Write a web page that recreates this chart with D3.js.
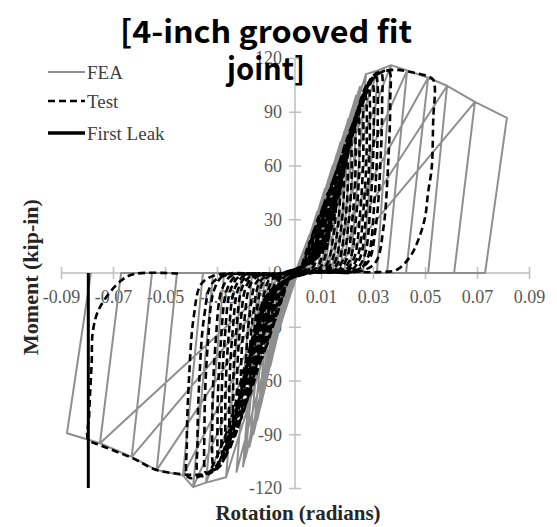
<!DOCTYPE html>
<html>
<head>
<meta charset="utf-8">
<script src="https://cdn.jsdelivr.net/npm/d3@7"></script>
<style>
  body { margin: 0; background: #fff; }
  svg { display: block; }
</style>
</head>
<body>
<svg id="chart" width="557" height="527"></svg>
<script>
// rotation ticks (radians) and moment ticks (kip-in)
var xTicks = [-0.09, -0.07, -0.05, -0.03, -0.01, 0.01, 0.03, 0.05, 0.07, 0.09];
var xTickLabels = ['-0.09', '-0.07', '-0.05', '-0.03', '-0.01', '0.01', '0.03', '0.05', '0.07', '0.09'];
var yTicks = [-120, -90, -60, -30, 0, 30, 60, 90, 120];

var legendNames = ['FEA', 'Test', 'First Leak'];
var titleLines = ['[4-inch grooved fit', 'joint]'];

// FEA hysteresis, [rotation, moment]
var feaPoints = [
  [0, 0],
  [0.0055, 21], [0.0005, 0], [-0.0005, 0], [-0.004, -22], [0.001, 0], [0.001, 0],
  [0.007, 27], [0.0015, 0], [-0.0005, 0], [-0.0055, -29], [0.0005, 0], [0.0012, 0],
  [0.0085, 34], [0.0025, 0], [-0.001, 0], [-0.007, -37], [-0.001, 0], [0.0015, 0],
  [0.010, 40], [0.004, 0], [-0.001, 0], [-0.0083, -44], [-0.0025, 0], [0.0015, 0],
  [0.0115, 47], [0.0055, 0], [-0.001, 0], [-0.0095, -52], [-0.0035, 0], [0.002, 0],
  [0.013, 53], [0.007, 0], [-0.001, 0], [-0.011, -60], [-0.005, 0], [0.002, 0],
  [0.0145, 60], [0.0085, 0], [-0.0015, 0], [-0.012, -67], [-0.006, 0], [0.0025, 0],
  [0.016, 66], [0.010, 0], [-0.0015, 0], [-0.0133, -75], [-0.0073, 0], [0.0025, 0],
  [0.0175, 73], [0.0115, 0], [-0.0015, 0], [-0.0145, -82], [-0.0085, 0], [0.003, 0],
  [0.019, 79], [0.013, 0], [-0.0015, 0], [-0.016, -90], [-0.010, 0], [0.003, 0],
  [0.0205, 86], [0.0145, 0], [-0.002, 0], [-0.0175, -97], [-0.0115, 0], [0.0035, 0],
  [0.022, 92], [0.016, 0], [-0.002, 0], [-0.019, -103], [-0.013, 0], [0.0035, 0],
  [0.0235, 99], [0.0175, 0], [-0.002, 0], [-0.020, -108], [-0.014, 0], [0.003, 0],
  [0.025, 104], [0.019, 0], [-0.002, 0], [-0.0225, -111], [-0.0165, 0], [0.003, 0],
  [0.0273, 111], [0.0212, 0], [-0.002, 0], [-0.0265, -114], [-0.0205, 0], [0.004, 0],
  [0.0273, 111], [0.0319, 113], [0.0262, 0], [-0.002, 0], [-0.0265, -114], [-0.0342, -117], [-0.0273, 0], [0.005, 0],
  [0.0319, 113], [0.0369, 116], [0.0315, 0], [-0.002, 0], [-0.0342, -117], [-0.0392, -119.5], [-0.0315, 0], [0.006, 0],
  [0.0369, 116], [0.0431, 113], [0.0354, 0], [-0.002, 0], [-0.0392, -119.5], [-0.0431, -113], [-0.0354, 0], [0.008, 0],
  [0.0431, 113], [0.0512, 109], [0.0427, 0], [-0.003, 0], [-0.0431, -113], [-0.0532, -110], [-0.0454, 0], [0.0096, 0],
  [0.0512, 109], [0.0585, 104.5], [0.0512, 0], [-0.003, 0], [-0.0532, -110], [-0.0628, -102.6], [-0.055, 0], [0.012, 0],
  [0.0585, 104.5], [0.0692, 95.5], [0.0612, 0], [-0.003, 0], [-0.0628, -102.6], [-0.075, -95], [-0.0669, 0], [0.0143, 0],
  [0.0692, 95.5], [0.0815, 86.6], [0.0731, 0], [-0.004, 0], [-0.075, -95], [-0.0877, -89.4], [-0.0785, 0]
];

// test hysteresis, [rotation, moment]
var testPoints = [
  [0, 0],
  [0.0018, 1.8], [0.0033, 7.2], [0.0048, 14], [0.006, 18], [0.0068, 13.5], [0.0058, 6.3], [0.0035, 1.5], [0.0005, 0.2],
  [-0.0018, -1.8], [-0.0033, -7.2], [-0.0048, -14], [-0.006, -18], [-0.0068, -13.5], [-0.0058, -6.3], [-0.0035, -1.5], [-0.0005, -0.2],
  [0.0024, 2.6], [0.0044, 10.4], [0.0064, 20], [0.008, 26], [0.0088, 19.5], [0.0076, 9], [0.0052, 2], [0.0015, 0.2],
  [-0.0024, -2.7], [-0.0044, -10.8], [-0.0064, -21], [-0.008, -27], [-0.0088, -20], [-0.0076, -9.5], [-0.0052, -2.2], [-0.0015, -0.2],
  [0.0029, 3.2], [0.0052, 12.8], [0.0076, 25], [0.0095, 32], [0.0103, 24], [0.009, 11], [0.0065, 2.6], [0.002, 0.3],
  [-0.0029, -3.3], [-0.0052, -13.2], [-0.0076, -25.7], [-0.0095, -33], [-0.0103, -24.8], [-0.009, -11.5], [-0.0065, -2.6], [-0.002, -0.3],
  [0.0035, 3.9], [0.0063, 15.6], [0.0092, 30], [0.0115, 39], [0.0123, 29], [0.011, 13.6], [0.0085, 3], [0.0045, 0.4], [0.001, 0.2],
  [-0.0035, -4.2], [-0.0063, -16.8], [-0.0092, -33], [-0.0115, -42], [-0.0123, -31.5], [-0.011, -14.7], [-0.0085, -3.4], [-0.0045, -0.4], [-0.001, -0.2],
  [0.0039, 4.5], [0.0072, 18], [0.0104, 35], [0.013, 45], [0.0138, 34], [0.0125, 16], [0.010, 3.6], [0.006, 0.5], [0.001, 0.2],
  [-0.0039, -4.8], [-0.0072, -19], [-0.0104, -37], [-0.013, -48], [-0.0138, -36], [-0.0125, -17], [-0.010, -3.8], [-0.006, -0.5], [-0.001, -0.2],
  [0.0045, 5.2], [0.0083, 21], [0.012, 40.5], [0.015, 52], [0.0158, 39], [0.0145, 18], [0.012, 4.2], [0.008, 0.5], [0.0015, 0.2],
  [-0.0045, -5.5], [-0.0083, -22], [-0.012, -43], [-0.015, -55], [-0.0158, -41], [-0.0145, -19], [-0.012, -4.4], [-0.008, -0.6], [-0.0015, -0.2],
  [0.005, 5.8], [0.0091, 23], [0.0132, 45], [0.0165, 58], [0.0173, 43], [0.016, 20], [0.0135, 4.6], [0.0095, 0.6], [0.0015, 0.2],
  [-0.005, -6.2], [-0.0091, -25], [-0.0132, -48], [-0.0165, -62], [-0.0173, -46], [-0.016, -22], [-0.0135, -5], [-0.0095, -0.6], [-0.0015, -0.2],
  [0.0054, 6.4], [0.0099, 25.6], [0.0144, 50], [0.018, 64], [0.0188, 48], [0.0175, 22], [0.015, 5], [0.011, 0.6], [0.002, 0.2],
  [-0.0054, -6.9], [-0.0099, -27.6], [-0.0144, -54], [-0.018, -69], [-0.0188, -52], [-0.0175, -24], [-0.015, -5.5], [-0.011, -0.7], [-0.002, -0.2],
  [0.0059, 7], [0.0107, 28], [0.0156, 55], [0.0195, 70], [0.0203, 52], [0.019, 24], [0.0165, 5.6], [0.0125, 0.7], [0.002, 0.2],
  [-0.006, -7.6], [-0.011, -30], [-0.016, -59], [-0.020, -76], [-0.0208, -57], [-0.0195, -27], [-0.017, -6], [-0.013, -0.8], [-0.002, -0.2],
  [0.0063, 7.7], [0.0116, 31], [0.0168, 60], [0.021, 77], [0.0218, 58], [0.0205, 27], [0.018, 6], [0.014, 0.8], [0.0025, 0.2],
  [-0.0065, -8.3], [-0.0118, -33], [-0.0172, -65], [-0.0215, -83], [-0.0223, -62], [-0.021, -29], [-0.0185, -6.6], [-0.0145, -0.8], [-0.0025, -0.2],
  [0.0068, 8.3], [0.0124, 33], [0.018, 65], [0.0225, 83], [0.0233, 62], [0.022, 29], [0.0195, 6.6], [0.0155, 0.8], [0.003, 0.2],
  [-0.0069, -8.9], [-0.0127, -36], [-0.0184, -69], [-0.023, -89], [-0.0238, -67], [-0.0225, -31], [-0.020, -7], [-0.016, -0.9], [-0.003, -0.2],
  [0.0072, 8.9], [0.0132, 36], [0.0192, 69], [0.024, 89], [0.0248, 67], [0.0235, 31], [0.021, 7], [0.017, 0.9], [0.0035, 0.2],
  [-0.0074, -9.5], [-0.0135, -38], [-0.0196, -74], [-0.0245, -95], [-0.0253, -71], [-0.024, -33], [-0.0215, -7.6], [-0.0175, -1], [-0.0035, -0.3],
  [0.0077, 9.5], [0.014, 38], [0.0204, 74], [0.0255, 95], [0.0263, 71], [0.025, 33], [0.0225, 7.6], [0.0185, 1], [0.004, 0.3],
  [-0.0078, -10], [-0.0143, -40], [-0.0208, -78], [-0.026, -100], [-0.0268, -75], [-0.0255, -35], [-0.023, -8], [-0.019, -1], [-0.004, -0.3],
  [0.008, 10], [0.0147, 40], [0.0214, 78], [0.0268, 100], [0.0276, 75], [0.0263, 35], [0.0238, 8], [0.0198, 1], [0.0045, 0.3],
  [-0.0083, -10.4], [-0.0151, -42], [-0.022, -81], [-0.0275, -104], [-0.0283, -78], [-0.027, -36], [-0.0245, -8.3], [-0.0205, -1], [-0.0045, -0.3],
  [0.0084, 10.5], [0.0154, 42], [0.0224, 82], [0.028, 105], [0.0288, 79], [0.0275, 37], [0.025, 8.4], [0.021, 1], [0.005, 0.3],
  [-0.0087, -10.8], [-0.016, -43], [-0.0232, -84], [-0.029, -108], [-0.0298, -81], [-0.0285, -38], [-0.026, -8.6], [-0.022, -1.1], [-0.005, -0.3],
  [0.0088, 10.8], [0.0162, 43], [0.0236, 84], [0.0295, 108], [0.0303, 81], [0.029, 38], [0.0265, 8.6], [0.0225, 1], [0.005, 0.3],
  [-0.0093, -11], [-0.017, -44], [-0.0245, -86], [-0.031, -110], [-0.0318, -82], [-0.0305, -38], [-0.028, -8.8], [-0.024, -1.1], [-0.005, -0.3],
  [0.009, 11], [0.0165, 44], [0.024, 86], [0.031, 110], [0.0318, 83], [0.0305, 39], [0.028, 8.8], [0.024, 1], [0.0055, 0.3],
  [-0.010, -11], [-0.018, -45], [-0.026, -88], [-0.034, -112], [-0.0348, -84], [-0.0335, -39], [-0.031, -9], [-0.027, -1.1], [-0.0055, -0.3],
  [0.009, 10], [0.016, 42], [0.022, 80], [0.027, 102], [0.030, 110], [0.033, 112], [0.0335, 95], [0.0328, 60], [0.031, 25], [0.028, 6], [0.022, 1], [0.006, 0.3],
  [-0.009, -10], [-0.016, -43], [-0.023, -84], [-0.029, -106], [-0.033, -112], [-0.037, -113], [-0.0375, -95], [-0.0368, -60], [-0.035, -25], [-0.032, -6], [-0.026, -1], [-0.006, -0.3],
  [0.0092, 10.5], [0.0165, 43], [0.023, 83], [0.028, 104], [0.032, 111], [0.036, 113], [0.0366, 95], [0.0358, 60], [0.034, 25], [0.031, 6], [0.025, 1], [0.006, 0.3],
  [-0.0095, -10.5], [-0.017, -44], [-0.024, -85], [-0.030, -107], [-0.035, -112.5], [-0.041, -114], [-0.0416, -96], [-0.0408, -60], [-0.039, -25], [-0.036, -6], [-0.030, -1], [-0.006, -0.3],
  [0.0095, 10], [0.017, 44], [0.023, 85], [0.028, 106], [0.033, 112], [0.039, 113.4], [0.045, 112], [0.0507, 110], [0.0531, 108], [0.0538, 103], [0.0532, 87], [0.0526, 59], [0.0512, 45], [0.050, 31], [0.0473, 18], [0.0442, 9], [0.039, 1.7], [0.032, 0.5], [0.007, 0.2],
  [-0.0095, -10], [-0.017, -44], [-0.0235, -86], [-0.029, -108], [-0.034, -112], [-0.0392, -112.7], [-0.045, -112], [-0.0532, -110], [-0.0623, -103.5], [-0.075, -96], [-0.0795, -93], [-0.0792, -80], [-0.0788, -67], [-0.0782, -50], [-0.0777, -32], [-0.075, -19], [-0.0667, -4], [-0.0615, -0.5], [-0.045, -0.3]
];

// first leak marker
var leakPoints = [[-0.0795, 0], [-0.0795, -120]];

var svg = d3.select('#chart');
var x = d3.scaleLinear().domain([-0.09, 0.09]).range([61, 529]);
var y = d3.scaleLinear().domain([-120, 120]).range([488, 58]);
var axisColor = '#bfbfbf';
var serif = '"Liberation Serif", "Times New Roman", serif';

// axes (ticks cross the line)
var xAxis = svg.append('g')
    .attr('transform', 'translate(0,' + (y(0) - 6) + ')')
    .call(d3.axisBottom(x).tickValues(xTicks).tickSize(12).tickPadding(11)
        .tickFormat(function (d, i) { return xTickLabels[i]; }));
xAxis.select('.domain').remove();

var yAxis = svg.append('g')
    .attr('transform', 'translate(' + (x(0) + 6) + ',0)')
    .call(d3.axisLeft(y).tickValues(yTicks).tickSize(12).tickPadding(7)
        .tickFormat(function (d) { return String(d); }));
yAxis.select('.domain').remove();

svg.selectAll('.tick line').attr('stroke', axisColor).attr('stroke-width', 1.5);
svg.selectAll('.tick text')
    .attr('fill', '#595959')
    .style('font-family', serif)
    .style('font-size', '18px');

svg.append('line')
    .attr('x1', x(-0.09)).attr('x2', x(0.09))
    .attr('y1', y(0)).attr('y2', y(0))
    .attr('stroke', axisColor).attr('stroke-width', 1.5);
svg.append('line')
    .attr('x1', x(0)).attr('x2', x(0))
    .attr('y1', y(120)).attr('y2', y(-120))
    .attr('stroke', axisColor).attr('stroke-width', 1.5);

var line = d3.line()
    .x(function (d) { return x(d[0]); })
    .y(function (d) { return y(d[1]); });

svg.append('path')
    .datum(feaPoints)
    .attr('d', line)
    .attr('fill', 'none')
    .attr('stroke', '#8f8f8f')
    .attr('stroke-width', 2)
    .attr('stroke-linejoin', 'round');

svg.append('path')
    .datum(testPoints)
    .attr('d', line.curve(d3.curveCatmullRom.alpha(0.5)))
    .attr('fill', 'none')
    .attr('stroke', '#000')
    .attr('stroke-width', 2.6)
    .attr('stroke-dasharray', '7,4');

svg.append('path')
    .datum(leakPoints)
    .attr('d', line.curve(d3.curveLinear))
    .attr('fill', 'none')
    .attr('stroke', '#000')
    .attr('stroke-width', 3);

// legend
var legendY = [72, 101, 133];
var legendStyle = [
    {stroke: '#8f8f8f', width: 2, dash: null},
    {stroke: '#000', width: 2.5, dash: '7,4'},
    {stroke: '#000', width: 3.5, dash: null}
];
var legend = svg.append('g').selectAll('g').data(legendNames).enter().append('g')
    .attr('transform', function (d, i) { return 'translate(48,' + legendY[i] + ')'; });
legend.append('line')
    .attr('x1', 0).attr('x2', 37)
    .attr('stroke', function (d, i) { return legendStyle[i].stroke; })
    .attr('stroke-width', function (d, i) { return legendStyle[i].width; })
    .attr('stroke-dasharray', function (d, i) { return legendStyle[i].dash; });
legend.append('text')
    .attr('x', 39).attr('dy', '0.35em')
    .attr('fill', '#404040')
    .style('font-family', serif)
    .style('font-size', '19px')
    .text(function (d) { return d; });

// axis titles
svg.append('text')
    .attr('x', 298).attr('y', 520)
    .attr('text-anchor', 'middle')
    .style('font-family', serif).style('font-size', '21px').style('font-weight', 'bold')
    .attr('fill', '#262626')
    .text('Rotation (radians)');
svg.append('text')
    .attr('transform', 'translate(38,277) rotate(-90)')
    .attr('text-anchor', 'middle')
    .style('font-family', serif).style('font-size', '22px').style('font-weight', 'bold')
    .attr('fill', '#262626')
    .text('Moment (kip-in)');

// title on top of everything
var titleWidth = [292, 78];
svg.append('g').selectAll('text').data(titleLines).enter().append('text')
    .attr('x', 266)
    .attr('y', function (d, i) { return 43 + i * 37; })
    .attr('text-anchor', 'middle')
    .attr('textLength', function (d, i) { return titleWidth[i]; })
    .attr('lengthAdjust', 'spacingAndGlyphs')
    .style('font-family', '"Noto Sans CJK KR", "Noto Sans", sans-serif')
    .style('font-weight', 'bold')
    .style('font-size', '31px')
    .attr('fill', '#000')
    .text(function (d) { return d; });
</script>
</body>
</html>
